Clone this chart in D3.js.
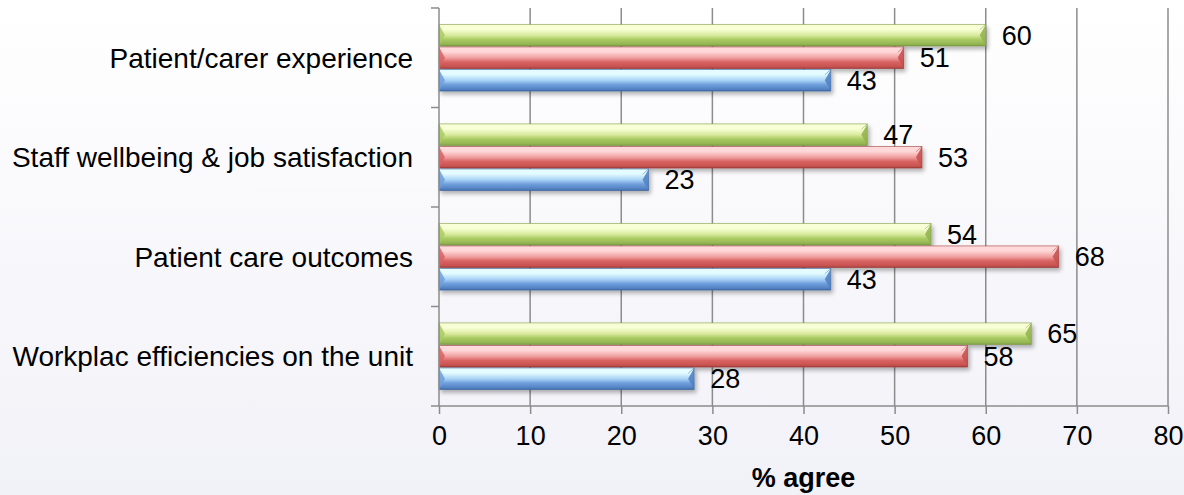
<!DOCTYPE html>
<html><head><meta charset="utf-8">
<script src="https://cdn.jsdelivr.net/npm/d3@7/dist/d3.min.js"></script>
<style>
html,body{margin:0;padding:0;background:#f4f4fa;}
svg{display:block;font-family:"Liberation Sans",Arial,sans-serif;}
</style></head>
<body><svg id="c" width="1184" height="495"></svg>
<script>
const categories = ["Patient/carer experience","Staff wellbeing & job satisfaction","Patient care outcomes","Workplac efficiencies on the unit"];
const seriesNames = ["green","red","blue"];
const greenValues = [60,47,54,65];
const redValues = [51,53,68,58];
const blueValues = [43,23,43,28];
const xTicks = [0,10,20,30,40,50,60,70,80];
const xTitle = "% agree";

const valuesBySeries = {green: greenValues, red: redValues, blue: blueValues};
const palette = {
  green: ["#f8ffd6","#d9ea9e","#aacb62","#93b451","#7c9a42"],
  red:   ["#ffd9d9","#f0a0a0","#d96262","#c65250","#9c3b39"],
  blue:  ["#e4fcff","#a9d3f5","#6f9fdc","#5382c2","#3d66a1"]
};

const svg = d3.select("#c");
const W = 1184, H = 495;
const m = {left:439, right:16, top:8, bottom:89};

const defs = svg.append("defs");
const bg = defs.append("linearGradient").attr("id","bg").attr("x1",0).attr("y1",0).attr("x2",0).attr("y2",1);
bg.append("stop").attr("offset","0%").attr("stop-color","#ffffff");
bg.append("stop").attr("offset","100%").attr("stop-color","#f1f1f8");
svg.append("rect").attr("width",W).attr("height",H).attr("fill","url(#bg)");

seriesNames.forEach(s=>{
  const g = defs.append("linearGradient").attr("id","g-"+s).attr("x1",0).attr("y1",0).attr("x2",0).attr("y2",1);
  const p = palette[s];
  [[0,p[0]],[0.22,p[0]],[0.5,p[1]],[0.7,p[2]],[0.92,p[3]],[1,p[4]]].forEach(([o,c])=>
    g.append("stop").attr("offset",o).attr("stop-color",c));
});
const sh = defs.append("filter").attr("id","shadow").attr("x","-5%").attr("y","-20%").attr("width","115%").attr("height","160%");
sh.append("feGaussianBlur").attr("in","SourceAlpha").attr("stdDeviation",2.2);
sh.append("feOffset").attr("dx",2).attr("dy",3).attr("result","b");
sh.append("feComponentTransfer").append("feFuncA").attr("type","linear").attr("slope",0.3);
const mg = sh.append("feMerge"); mg.append("feMergeNode"); mg.append("feMergeNode").attr("in","SourceGraphic");

const x = d3.scaleLinear().domain([0,80]).range([m.left, W-m.right]);
const y = d3.scaleBand().domain(categories).range([m.top, H-m.bottom]).paddingInner(0).paddingOuter(0);
const bw = y.bandwidth();
const ySub = d3.scaleBand().domain(seriesNames).range([bw*0.165, bw*0.835]).paddingInner(0.04).paddingOuter(0);

// gridlines
svg.append("g").selectAll("line").data(xTicks.filter(t=>t>0)).join("line")
  .attr("x1",d=>x(d)).attr("x2",d=>x(d)).attr("y1",m.top).attr("y2",H-m.bottom)
  .attr("stroke","#8c8c8c").attr("stroke-width",1.5);

// bars
const groups = svg.append("g").selectAll("g").data(categories).join("g")
  .attr("transform",d=>`translate(0,${y(d)})`);
groups.each(function(cat,i){
  const g = d3.select(this);
  seriesNames.forEach(s=>{
    const v = valuesBySeries[s][i];
    const y0 = ySub(s), h = ySub.bandwidth(), x0 = x(0), x1 = x(v);
    const bar = g.append("g").attr("filter","url(#shadow)");
    bar.append("rect").attr("x",x0).attr("y",y0).attr("width",x1-x0).attr("height",h)
      .attr("fill",`url(#g-${s})`);
    // bevel facets
    const b = 6;
    bar.append("path").attr("d",`M${x0},${y0}L${x0+b},${y0+h/2}L${x0},${y0+h}Z`)
      .attr("fill",palette[s][2]).attr("opacity",0.85);
    bar.append("path").attr("d",`M${x1},${y0}L${x1-b},${y0+h/2}L${x1},${y0+h}Z`)
      .attr("fill",palette[s][3]).attr("opacity",0.9);
    bar.append("path").attr("d",`M${x1},${y0}L${x1-b},${y0+b*0.9}`)
      .attr("stroke",palette[s][4]).attr("stroke-width",0.8).attr("opacity",0.6);
    bar.append("rect").attr("x",x0).attr("y",y0).attr("width",x1-x0).attr("height",h)
      .attr("fill","none").attr("stroke",palette[s][4]).attr("stroke-width",0.8).attr("opacity",0.7);
    g.append("text").attr("x",x1+16).attr("y",y0+h/2).attr("dy","0.36em")
      .attr("font-size",27).attr("fill","#000").text(v);
  });
});

// axes
const xAxis = svg.append("g").attr("transform",`translate(0,${H-m.bottom})`)
  .call(d3.axisBottom(x).tickValues(xTicks).tickSize(8).tickPadding(12));
xAxis.selectAll("line").attr("stroke","#8c8c8c").attr("stroke-width",1.5);
xAxis.select(".domain").attr("stroke","#8c8c8c").attr("stroke-width",1.5).attr("d",`M${x(0)},0H${x(80)}`);
xAxis.selectAll("text").attr("font-size",27).attr("fill","#000").attr("font-family","Liberation Sans, Arial, sans-serif");

const yEdges = d3.range(categories.length+1).map(i=> i<categories.length ? y(categories[i]) : y(categories[categories.length-1])+bw);
const yAx = svg.append("g");
yAx.append("line").attr("x1",x(0)).attr("x2",x(0)).attr("y1",m.top).attr("y2",H-m.bottom)
  .attr("stroke","#8c8c8c").attr("stroke-width",1.5);
yAx.selectAll("line.t").data(yEdges).join("line").attr("class","t")
  .attr("x1",x(0)-8).attr("x2",x(0)).attr("y1",d=>d).attr("y2",d=>d)
  .attr("stroke","#8c8c8c").attr("stroke-width",1.5);
yAx.selectAll("text").data(categories).join("text")
  .attr("x",x(0)-26).attr("y",d=>y(d)+bw/2).attr("dy","0.36em").attr("text-anchor","end")
  .attr("font-size",28).attr("fill","#000").text(d=>d);

svg.append("text").attr("x",(x(0)+x(80))/2).attr("y",H-8).attr("text-anchor","middle")
  .attr("font-size",27).attr("font-weight","bold").attr("fill","#000").text(xTitle);
</script></body></html>
